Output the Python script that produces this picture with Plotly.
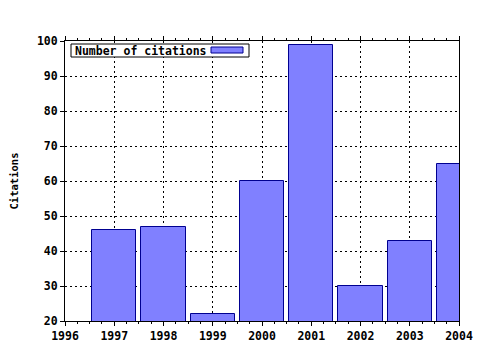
import plotly.graph_objects as go

years = [1997, 1998, 1999, 2000, 2001, 2002, 2003, 2004]
citations = [46, 47, 22, 60, 99, 30, 43, 65]
x_ticks = [1996, 1997, 1998, 1999, 2000, 2001, 2002, 2003, 2004]
y_ticks = [20, 30, 40, 50, 60, 70, 80, 90, 100]
series_name = "Number of citations"
y_title = "Citations"

FONT = "DejaVu Sans Mono"

fig = go.Figure()
fig.add_trace(go.Bar(
    x=years, y=citations, width=0.9, name=series_name,
    marker=dict(color="#8080ff", line=dict(color="#000090", width=1)),
    showlegend=False,
))

axis_common = dict(
    showline=True, linecolor="black", linewidth=1,
    showgrid=True, gridcolor="black", gridwidth=1, griddash="2px,3px",
    zeroline=False, automargin=False,
    ticks="outside", ticklen=4, tickcolor="black", tickwidth=1,
    tickfont=dict(family=FONT, size=11.5, color="black", weight="bold"),
)

fig.update_xaxes(
    **axis_common, range=[1996, 2004], tickvals=x_ticks,
    ticktext=[str(v) for v in x_ticks], mirror="allticks",
    minor=dict(dtick=0.25, tick0=1996, ticks="outside", ticklen=2,
               tickcolor="black", showgrid=False),
)
fig.update_yaxes(
    **axis_common, range=[20, 100], tickvals=y_ticks, mirror=True,
    title=dict(text=y_title, font=dict(family=FONT, size=10.5, color="black", weight="bold"),
               standoff=16),
)

# legend box drawn in paper coordinates
px0, px1 = 65, 459
py0, py1 = 321, 41
def fx(p):
    return (p - px0) / (px1 - px0)
def fy(p):
    return (py0 - p) / (py0 - py1)

fig.add_shape(type="rect", xref="paper", yref="paper",
              x0=fx(71), x1=fx(249), y0=fy(57), y1=fy(44),
              line=dict(color="black", width=1), fillcolor="white")
fig.add_shape(type="rect", xref="paper", yref="paper",
              x0=fx(211), x1=fx(243), y0=fy(53), y1=fy(47),
              line=dict(color="#000090", width=1), fillcolor="#8080ff")
fig.add_annotation(xref="paper", yref="paper", x=fx(73), y=fy(50.5),
                   xanchor="left", yanchor="middle", showarrow=False,
                   text=series_name,
                   font=dict(family=FONT, size=11.5, color="black", weight="bold"))

fig.update_layout(
    width=480, height=350,
    margin=dict(l=65, r=21, t=41, b=29),
    paper_bgcolor="white", plot_bgcolor="white",
    bargap=0,
)

fig.write_html("out.html")
